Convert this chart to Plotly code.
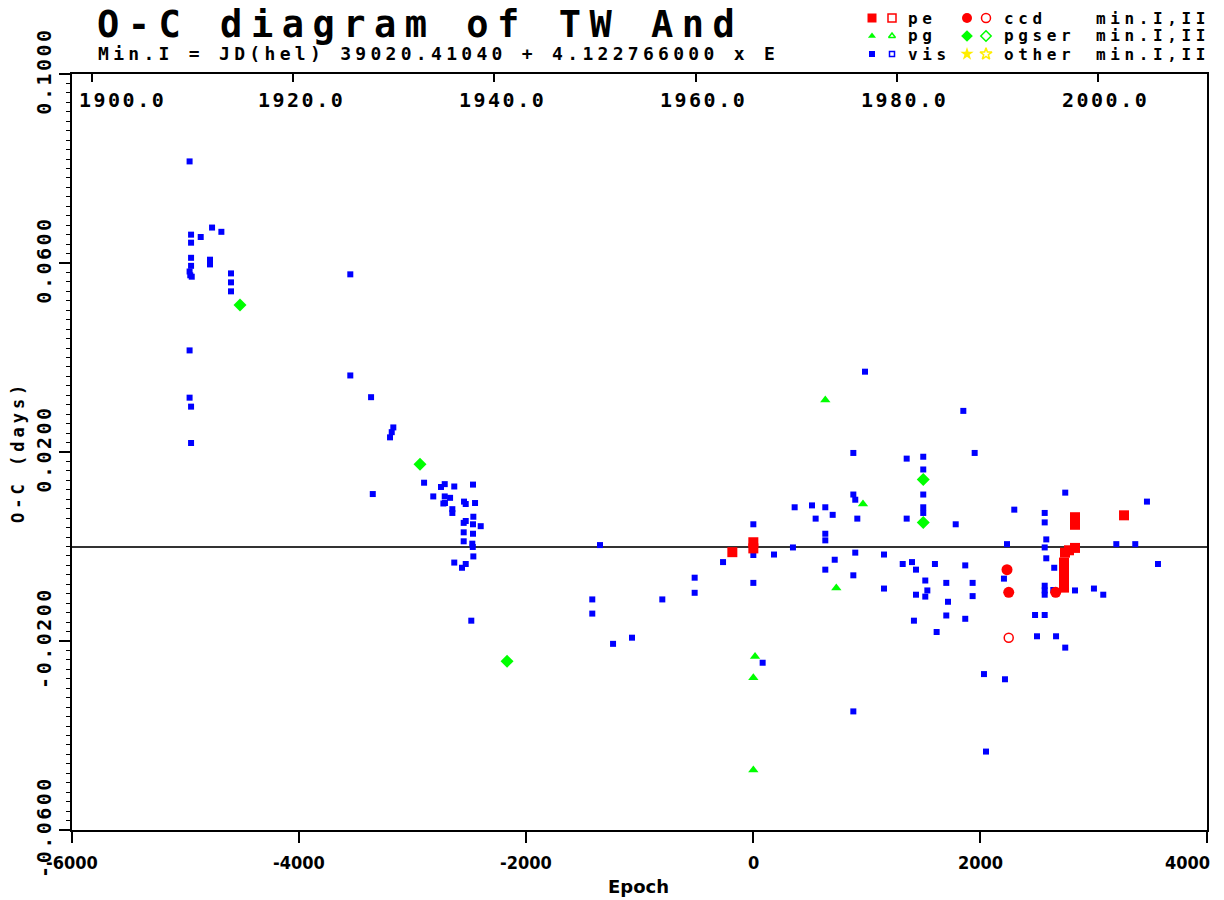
import plotly.graph_objects as go

# ---------------- data ----------------
T0 = 39020.41040
PERIOD = 4.122766

vis_epoch = [-4964, -4766, -4684, -4951, -4866, -4951, -4951, -4784, -4784, -4951,
             -4964, -4958, -4945, -4599, -4599, -4599, -4964, -4964, -4951, -4951,
             -3548, -3548, -3365, -3169, -3183, -3198, -3350, -2898, -2716, -2749,
             -2632, -2467, -2817, -2716, -2669, -2728, -2714, -2649, -2649, -2546,
             -2531, -2449, -2464, -2531, -2549, -2467, -2399, -2549, -2467, -2549,
             -2473, -2469, -2464, -2632, -2531, -2564, -2482,
             -1348, -1416, -1416, -1233, -1066, -799, -514, -514, -264, 3, 3, 3, 185, 85,
             987, 1853, 884, 1354, 1500, 1953, 1500, 1500, 884, 901, 367, 520, 637, 702,
             552, 919, 1500, 1500, 1354, 1786, 637, 637, 352, 901, 1154, 720, 637, 884,
             1319, 1401, 1436, 1603, 1870, 1154, 1518, 1536, 1436, 1518, 1703, 1935,
             1718, 1935, 1703, 1870, 1418, 1618, 884,
             2751, 3471, 2302, 2570, 2570, 2584, 2238, 2570, 3201, 3368, 2584, 3568,
             2654, 2211, 2570, 2570, 2570, 2646, 2837, 3004, 3086, 2485, 2570, 2502,
             2670, 2751, 2035, 2220, 2053]
vis_oc = [0.0815, 0.0675, 0.0666, 0.0660, 0.0655, 0.0643, 0.0611, 0.0607, 0.0597, 0.0594,
          0.0582, 0.0574, 0.0571, 0.0578, 0.0559, 0.0540, 0.0415, 0.0315, 0.0296, 0.0219,
          0.0576, 0.0362, 0.0316, 0.0252, 0.0242, 0.0231, 0.0111, 0.0135, 0.0132, 0.0126,
          0.0127, 0.0131, 0.0106, 0.0106, 0.0103, 0.0091, 0.0092, 0.0079, 0.0071, 0.0095,
          0.0090, 0.0092, 0.0063, 0.0054, 0.0050, 0.0047, 0.0043, 0.0030, 0.0027, 0.0011,
          0.0006, -0.0001, -0.0021, -0.0034, -0.0037, -0.0045, -0.0157,
          0.0003, -0.0112, -0.0142, -0.0206, -0.0193, -0.0112, -0.0066, -0.0098, -0.0033,
          0.0047, -0.0018, -0.0077, -0.0017, -0.0246,
          0.0370, 0.0287, 0.0198, 0.0186, 0.0190, 0.0198, 0.0163, 0.0110, 0.0110, 0.0099,
          0.0083, 0.0087, 0.0083, 0.0067, 0.0059, 0.0059, 0.0083, 0.0071, 0.0059, 0.0047,
          0.0027, 0.0013, -0.0002, -0.0013, -0.0017, -0.0028, -0.0049, -0.0061, -0.0037,
          -0.0033, -0.0049, -0.0037, -0.0040, -0.0089, -0.0072, -0.0093, -0.0102, -0.0106,
          -0.0077, -0.0077, -0.0117, -0.0105, -0.0146, -0.0153, -0.0157, -0.0181, -0.0349,
          0.0114, 0.0095, 0.0078, 0.0071, 0.0051, 0.0015, 0.0005, -0.0002, 0.0005, 0.0005,
          -0.0025, -0.0037, -0.0045, -0.0068, -0.0083, -0.0093, -0.0102, -0.0092, -0.0093,
          -0.0089, -0.0102, -0.0145, -0.0145, -0.0190, -0.0190, -0.0214, -0.0270, -0.0281,
          -0.0434]

pe_epoch = [-182, 3, 3, 2837, 2837, 3269, 2837, 2784, 2749, 2740, 2740, 2740, 2740, 2740]
pe_oc = [-0.0012, 0.0009, -0.0004, 0.0062, 0.0046, 0.0066, -0.0003, -0.0008, -0.0013,
         -0.0034, -0.0049, -0.0063, -0.0078, -0.0087]

ccd_epoch = [2238, 2253, 2667]
ccd_oc = [-0.0049, -0.0097, -0.0097]
ccd2_epoch = [2253]
ccd2_oc = [-0.0193]

pg_epoch = [18, 3, 3, 734, 637, 969]
pg_oc = [-0.0233, -0.0278, -0.0473, -0.0088, 0.0310, 0.0090]

pgser_epoch = [-4520, -2934, -2167, 1500, 1500]
pgser_oc = [0.0511, 0.0174, -0.0243, 0.0142, 0.0051]

epoch_ticks = [-6000, -4000, -2000, 0, 2000, 4000]
epoch_ticklabels = ["-6000", "-4000", "-2000", "0", "2000", "4000"]
oc_ticks = [0.10, 0.06, 0.02, -0.02, -0.06]
oc_ticklabels = ["0.1000", "0.0600", "0.0200", "-0.0200", "-0.0600"]
years = [1900, 1920, 1940, 1960, 1980, 2000]
year_labels = ["1900.0", "1920.0", "1940.0", "1960.0", "1980.0", "2000.0"]

legend_labels = [["pe", "ccd"], ["pg", "pgser"], ["vis", "other"]]
legend_colors = [["#FF0000", "#FF0000"], ["#00FF00", "#00FF00"], ["#0000FF", "#FFEE00"]]
legend_symbols = [["square", "circle"], ["triangle-up", "diamond"], ["square", "star"]]
legend_minmax = "min.I,II"

title_text = "O-C diagram of TW And"
subtitle_text = "Min.I = JD(hel) 39020.41040 + 4.122766000 x E"


def year_to_epoch(y):
    jd = 2451545.0 + (y - 2000.0) * 365.25 - 2400000.0
    return (jd - T0) / PERIOD


year_epochs = [year_to_epoch(y) for y in years]

# ---------------- style / layout helpers ----------------
OFF = 8                     # page body margin
FW, FH = 1224 - OFF, 900 - OFF
MONO = "DejaVu Sans Mono"
COND = "DejaVu Sans Condensed, DejaVu Sans"
BLUE, RED, GREEN = "#0000FF", "#FF0000", "#00FF00"
CLEAR = "rgba(0,0,0,0)"


def fx(p):   # page x pixel -> paper fraction
    return (p - OFF) / FW


def fy(p):   # page y pixel -> paper fraction
    return 1 - (p - OFF) / FH


def spaced(s, px):
    return '<span style="letter-spacing:%.1fpx">%s</span>' % (px, s)


X0, X1 = 72, 1207     # plot area (page pixels)
Y0, Y1 = 74, 830

fig = go.Figure()

fig.add_trace(go.Scatter(x=vis_epoch, y=vis_oc, mode="markers",
                         marker=dict(symbol="square", size=6, color=BLUE)))
fig.add_trace(go.Scatter(x=pg_epoch, y=pg_oc, mode="markers",
                         marker=dict(symbol="triangle-up", size=9, color=GREEN)))
fig.add_trace(go.Scatter(x=pgser_epoch, y=pgser_oc, mode="markers",
                         marker=dict(symbol="diamond", size=10, color=GREEN)))
fig.add_trace(go.Scatter(x=pe_epoch, y=pe_oc, mode="markers",
                         marker=dict(symbol="square", size=10, color=RED)))
fig.add_trace(go.Scatter(x=ccd_epoch, y=ccd_oc, mode="markers",
                         marker=dict(symbol="circle", size=11, color=RED)))
fig.add_trace(go.Scatter(x=ccd2_epoch, y=ccd2_oc, mode="markers",
                         marker=dict(symbol="circle-open", size=9, color=RED,
                                     line=dict(width=1.5, color=RED))))
# invisible trace registering the top (year) axis
fig.add_trace(go.Scatter(x=[year_epochs[0]], y=[0], xaxis="x2", yaxis="y", mode="markers",
                         marker=dict(size=1, opacity=0)))

# ---- legend (page-pixel overlay axis) ----
row_y = [18, 36, 54]
filled_x = [872, 967]
open_x = [892, 986]
text_x = [906, 1002]
minmax_x = 1094
leg_sizes = {"square": 9, "circle": 10, "triangle-up": 7, "diamond": 9, "star": 10}
for i, row in enumerate(legend_labels):
    for j, lab in enumerate(row):
        sym = legend_symbols[i][j]
        col = legend_colors[i][j]
        sz = leg_sizes[sym]
        if lab == "vis":
            sz = 6
        fig.add_trace(go.Scatter(x=[filled_x[j]], y=[row_y[i]], xaxis="x3", yaxis="y3",
                                 mode="markers", cliponaxis=False,
                                 marker=dict(symbol=sym, size=sz, color=col)))
        fig.add_trace(go.Scatter(x=[open_x[j]], y=[row_y[i]], xaxis="x3", yaxis="y3",
                                 mode="markers", cliponaxis=False,
                                 marker=dict(symbol=sym + "-open", size=sz - 1, color=col,
                                             line=dict(width=1.5, color=col))))
        fig.add_annotation(x=fx(text_x[j]), y=fy(row_y[i]), xref="paper", yref="paper",
                           text=spaced(lab, 4.6), showarrow=False, xanchor="left",
                           yanchor="middle",
                           font=dict(family=MONO, size=16, color="black", weight="bold"))
    fig.add_annotation(x=fx(minmax_x), y=fy(row_y[i]), xref="paper", yref="paper",
                       text=spaced(legend_minmax, 4.6), showarrow=False, xanchor="left",
                       yanchor="middle",
                       font=dict(family=MONO, size=16, color="black", weight="bold"))

# ---- titles ----
fig.add_annotation(x=fx(95), y=fy(1), xref="paper", yref="paper",
                   text=spaced(title_text, 8.5), showarrow=False,
                   xanchor="left", yanchor="top",
                   font=dict(family=MONO, size=37, color="black", weight="bold"))
fig.add_annotation(x=fx(96), y=fy(41), xref="paper", yref="paper",
                   text=spaced(subtitle_text, 4.3), showarrow=False,
                   xanchor="left", yanchor="top",
                   font=dict(family=MONO, size=18, color="black", weight="bold"))
fig.add_annotation(x=fx(18), y=fy(452), xref="paper", yref="paper",
                   text=spaced("O-C (days)", 4), showarrow=False, textangle=-90,
                   xanchor="center", yanchor="middle",
                   font=dict(family=MONO, size=17, color="black", weight="bold"))
fig.add_annotation(x=fx(638), y=fy(899), xref="paper", yref="paper", text="Epoch",
                   showarrow=False, xanchor="center", yanchor="bottom",
                   font=dict(family="DejaVu Sans", size=18, color="black", weight="bold"))

# top year labels
for k, (ye, lab) in enumerate(zip(year_epochs, year_labels)):
    fig.add_annotation(x=ye, y=fy(100), xref="x", yref="paper", text=spaced(lab, 2.5),
                       showarrow=False, xanchor="center", yanchor="middle",
                       xshift=30 if k == 0 else 8,
                       font=dict(family=MONO, size=20, color="black", weight="bold"))

# bottom epoch labels (last one kept inside the page)
for k, (ev, lab) in enumerate(zip(epoch_ticks, epoch_ticklabels)):
    last = k == len(epoch_ticks) - 1
    fig.add_annotation(x=ev, y=fy(862), xref="x", yref="paper", text=lab,
                       showarrow=False, xanchor="right" if last else "center",
                       yanchor="middle", xshift=5 if last else 0,
                       font=dict(family=COND, size=18, color="black", weight="bold"))

fig.update_layout(
    template="none",
    width=FW, height=FH,
    margin=dict(l=0, r=0, t=0, b=0, pad=0, autoexpand=False),
    paper_bgcolor="white", plot_bgcolor=CLEAR,
    showlegend=False, hovermode=False,
    xaxis=dict(domain=[fx(X0), fx(X1)], range=[-6000, 4000], anchor="y", automargin=False,
               tickmode="array", tickvals=epoch_ticks, showticklabels=False,
               ticks="outside", ticklen=11, tickwidth=1.5, tickcolor="black",
               showline=True, linewidth=2, linecolor="black",
               showgrid=False, zeroline=False, fixedrange=True),
    xaxis2=dict(overlaying="x", side="top", anchor="y", range=[-6000, 4000],
                automargin=False,
                tickmode="array", tickvals=year_epochs, showticklabels=False,
                ticks="inside", ticklen=8, tickwidth=1.5, tickcolor="black",
                showline=True, linewidth=2, linecolor="black",
                showgrid=False, zeroline=False, fixedrange=True),
    yaxis=dict(domain=[fy(Y1), fy(Y0)], range=[-0.06, 0.10], anchor="x",
               automargin=False,
               tickmode="array", tickvals=oc_ticks,
               ticktext=[spaced(t, 2.5) for t in oc_ticklabels],
               tickangle=-90, ticks="outside", ticklen=11, tickwidth=1.5, tickcolor="black",
               tickfont=dict(family=MONO, size=20, color="black", weight="bold"),
               minor=dict(tickmode="linear", tick0=0, dtick=0.002, ticks="outside",
                          ticklen=4, tickwidth=1, tickcolor="black", showgrid=False),
               showline=True, linewidth=2, linecolor="black", mirror=True,
               showgrid=False, zeroline=True, zerolinecolor="#333333", zerolinewidth=2,
               fixedrange=True),
    xaxis3=dict(domain=[0, 1], range=[OFF, OFF + FW], anchor="y3", visible=False,
                fixedrange=True, automargin=False),
    yaxis3=dict(domain=[0, 1], range=[OFF + FH, OFF], anchor="x3", visible=False,
                fixedrange=True, automargin=False),
)

fig.write_html("out.html")
